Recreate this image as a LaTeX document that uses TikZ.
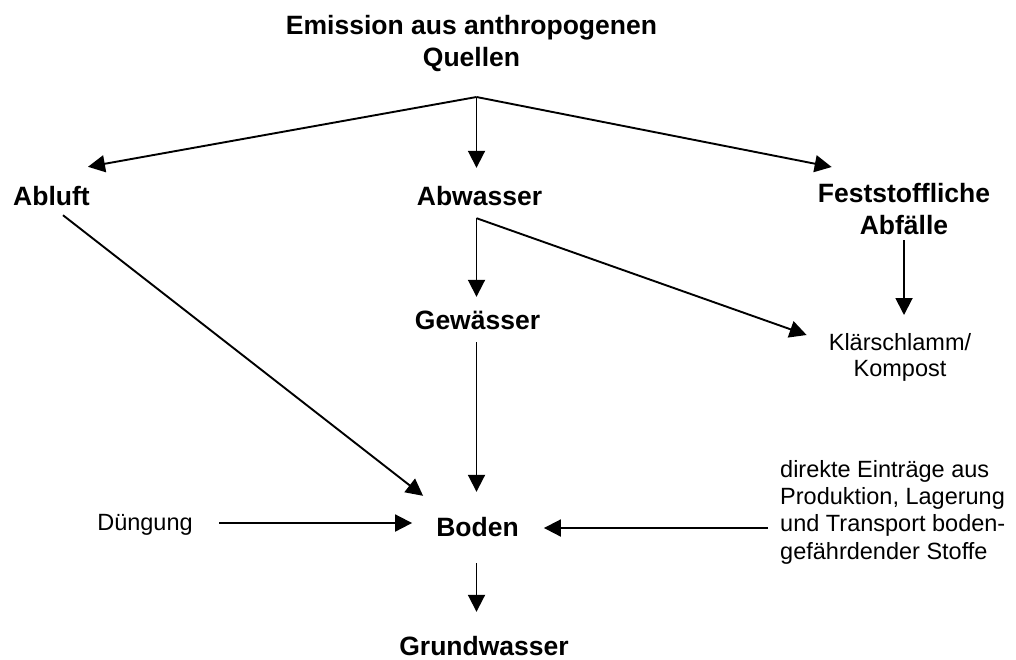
\documentclass[tikz,border=0pt]{standalone}
\usepackage{fontspec}
\setmainfont{Liberation Sans}
\usetikzlibrary{arrows.meta}
\begin{document}
\begin{tikzpicture}[x=1pt,y=-1pt,
  boldlbl/.style={font=\fontsize{26.5}{31.7}\selectfont\bfseries, inner sep=0pt, align=center},
  boldone/.style={boldlbl, text height=20pt, text depth=6pt, anchor=base},
  reglbl/.style={font=\fontsize{23.5}{27.3}\selectfont, inner sep=0pt},
  regone/.style={reglbl, text height=17pt, text depth=5pt, anchor=base},
  arr/.style={line width=1.9pt, -{Triangle[length=17pt,width=17pt]}}]
\useasboundingbox (0,0) rectangle (1016,659);
\node[boldlbl, anchor=north] (emission) at (471.5,15) {Emission aus anthropogenen\\Quellen};
\coordinate (split) at (476.5,97);
\node[boldone] (abluft) at (51.5,205) {Abluft};
\node[boldone] (abwasser) at (479.5,205) {Abwasser};
\node[boldlbl, anchor=north] (feststoff) at (904,183) {Feststoffliche\\Abfälle};
\node[boldone] (gewasser) at (477.5,329) {Gewässer};
\node[reglbl, align=center, anchor=north, font=\fontsize{23.5}{26}\selectfont] (klar) at (900,333) {Klärschlamm/\\Kompost};
\node[boldone] (boden) at (477.5,536) {Boden};
\node[regone] (dungung) at (145,530) {Düngung};
\node[reglbl, align=left, anchor=north west] (direkt) at (780,460) {direkte Einträge aus\\Produktion, Lagerung\\und Transport boden-\\gefährdender Stoffe};
\node[boldone] (grund) at (484,655) {Grundwasser};

\coordinate (bin) at ([shift={(25,-1)}]boden.east);
\coordinate (dout) at ([xshift=-12pt]direkt.west);

\draw[arr] (split) -- ([shift={(-2,-18)}]abluft.north east);
\draw[arr] (split) -- ([shift={(-3,-17)}]abwasser.north);
\draw[arr] (split) -- ([shift={(14,-16)}]feststoff.north west);
\draw[arr] ([shift={(-3,7)}]abwasser.south) -- ([shift={(-1,-12)}]gewasser.north);
\draw[arr] ([shift={(-3,7)}]abwasser.south) -- ([shift={(-22,2)}]klar.north west);
\draw[arr] ([shift={(0,5.5)}]feststoff.south) -- ([shift={(4,-18)}]klar.north);
\draw[arr] ([shift={(11.5,4)}]abluft.south) -- ([shift={(-13,-20)}]boden.north west);
\draw[arr] ([shift={(-1,7)}]gewasser.south) -- ([shift={(-1,-24)}]boden.north);
\draw[arr] ([shift={(26.5,-1)}]dungung.east) -- ([shift={(-24,-6)}]boden.west);
\draw[arr] (dout |- bin) -- (bin);
\draw[arr] ([shift={(-1,21)}]boden.south) -- ([shift={(-7.5,-23)}]grund.north);
\end{tikzpicture}
\end{document}
